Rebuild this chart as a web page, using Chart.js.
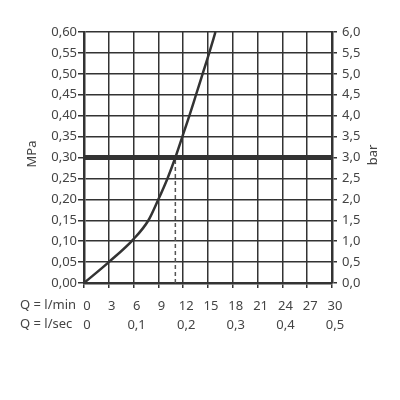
<!DOCTYPE html>
<html>
<head>
<meta charset="utf-8">
<script src="https://cdn.jsdelivr.net/npm/chart.js@4/dist/chart.umd.min.js"></script>
<style>
  html, body { margin: 0; padding: 0; background: #fff; }
  #wrap { width: 400px; height: 400px; }
</style>
</head>
<body>
<div id="wrap"><canvas id="myChart" width="400" height="400"></canvas></div>
<script>
// flow in l/min vs pressure in MPa
var flowLmin    = [0, 3, 6, 7.8, 9, 10.1, 11.05, 11.9, 12.75, 13.55, 14.35, 15.15, 15.9];
var pressureMPa = [0, 0.05, 0.105, 0.15, 0.2, 0.25, 0.30, 0.35, 0.40, 0.45, 0.50, 0.55, 0.60];
// reference level (3 bar) and the flow where the curve meets it
var refPressure = [0.30, 0.30];
var refLevelX   = [0, 30];
var markFlow    = [11.05, 11.05];
var markY       = [0, 0.30];

var ink = '#333';
var txt = '#444';
var fnt = { family: 'Noto Sans', size: 13 };

function comma(v, d) { return v.toFixed(d).replace('.', ','); }

// axis titles + row captions (both titles read bottom-to-top)
var extraText = {
  id: 'extraText',
  afterDraw: function(chart) {
    var c = chart.ctx;
    c.save();
    c.fillStyle = txt;
    c.font = '13px "Noto Sans"';
    c.textBaseline = 'middle';
    c.textAlign = 'left';
    c.fillText('Q = l/min', 20, 305);
    c.fillText('Q = l/sec', 20, 324);
    c.textAlign = 'center';
    c.translate(32, 154);
    c.rotate(-Math.PI / 2);
    c.fillText('MPa', 0, 0);
    c.restore();
    c.save();
    c.fillStyle = txt;
    c.font = '13px "Noto Sans"';
    c.textBaseline = 'middle';
    c.textAlign = 'center';
    c.translate(373, 155);
    c.rotate(-Math.PI / 2);
    c.fillText('bar', 0, 0);
    c.restore();
  }
};

var ctx = document.getElementById('myChart');
var myChart = new Chart(ctx, {
  type: 'line',
  data: {
    datasets: [{
      data: flowLmin.map(function(x, i) { return { x: x, y: pressureMPa[i] }; }),
      borderColor: ink,
      borderWidth: 2.5,
      pointRadius: 0,
      cubicInterpolationMode: 'monotone'
    }, {
      data: refLevelX.map(function(x, i) { return { x: x, y: refPressure[i] }; }),
      borderColor: ink,
      borderWidth: 5,
      pointRadius: 0
    }, {
      data: markFlow.map(function(x, i) { return { x: x, y: markY[i] }; }),
      borderColor: '#555',
      borderWidth: 1.5,
      borderDash: [4, 3],
      pointRadius: 0
    }]
  },
  options: {
    responsive: false,
    animation: false,
    layout: { padding: { top: 32, bottom: 67, left: 0, right: 0 } },
    plugins: { legend: { display: false }, tooltip: { enabled: false } },
    scales: {
      x: {
        type: 'linear', position: 'bottom', min: 0, max: 30, weight: 0,
        ticks: { stepSize: 3, color: txt, font: fnt, padding: 10, labelOffset: 3, maxRotation: 0 },
        grid: { color: ink, lineWidth: 1.5, tickLength: 5 },
        border: { color: ink, width: 2.5 },
        afterFit: function(s) { s.height = 30; }
      },
      x2: {
        type: 'linear', position: 'bottom', min: 0, max: 0.5, weight: 1,
        ticks: { stepSize: 0.1, color: txt, font: fnt, padding: 4, labelOffset: 3, maxRotation: 0,
          callback: function(v) { return v === 0 ? '0' : comma(v, 1); } },
        grid: { display: false, drawTicks: false },
        border: { display: false },
        afterFit: function(s) { s.height = 20; }
      },
      y: {
        type: 'linear', position: 'left', min: 0, max: 0.6,
        ticks: { stepSize: 0.05, color: txt, font: fnt, padding: 1,
          callback: function(v) { return comma(v, 2); } },
        grid: { color: ink, lineWidth: 1.5, tickLength: 6 },
        border: { color: ink, width: 2.5 },
        afterFit: function(s) { s.width = 84; }
      },
      y2: {
        type: 'linear', position: 'right', min: 0, max: 6,
        ticks: { stepSize: 0.5, color: txt, font: fnt, padding: 5,
          callback: function(v) { return comma(v, 1); } },
        grid: { drawOnChartArea: false, color: ink, lineWidth: 1.5, tickLength: 5 },
        border: { color: ink, width: 2.5 },
        afterFit: function(s) { s.width = 68; }
      }
    }
  },
  plugins: [extraText]
});
</script>
</body>
</html>
